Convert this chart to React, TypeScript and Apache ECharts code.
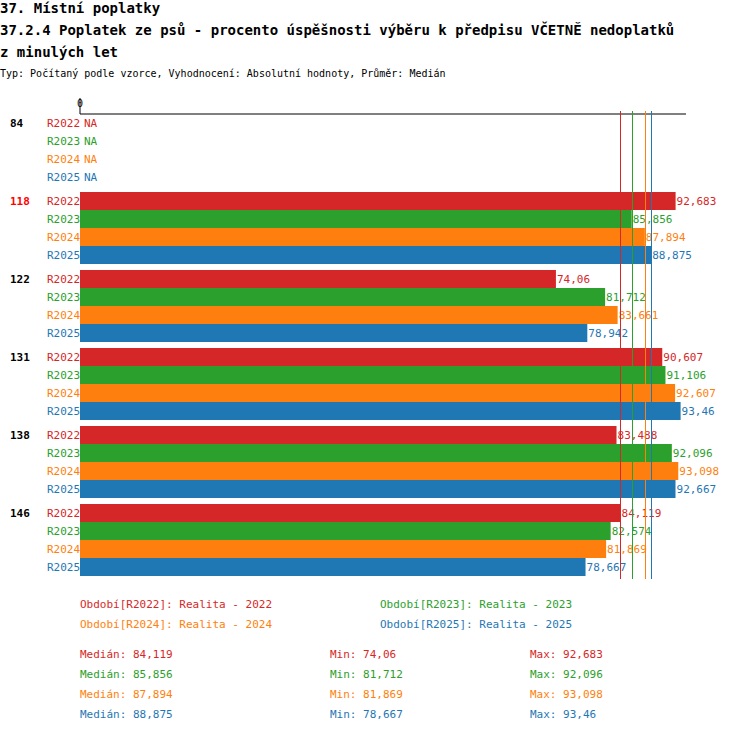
import { useEffect, useRef } from "react";
import * as echarts from "echarts";

const categories = ["84", "118", "122", "131", "138", "146"];
const seriesNames = ["R2022", "R2023", "R2024", "R2025"];
const colors = ["#d62728", "#2ca02c", "#ff7f0e", "#1f77b4"];
const r2022 = [null, 92.683, 74.06, 90.607, 83.488, 84.119];
const r2023 = [null, 85.856, 81.712, 91.106, 92.096, 82.574];
const r2024 = [null, 87.894, 83.661, 92.607, 93.098, 81.869];
const r2025 = [null, 88.875, 78.942, 93.46, 92.667, 78.667];
const medians = [84.119, 85.856, 87.894, 88.875];
const mins = [74.06, 81.712, 81.869, 78.667];
const maxs = [92.683, 92.096, 93.098, 93.46];
const legendTexts = ["Období[R2022]: Realita - 2022", "Období[R2023]: Realita - 2023", "Období[R2024]: Realita - 2024", "Období[R2025]: Realita - 2025"];

const FONT = "'DejaVu Sans Mono', monospace";
const fmt = (v: number) => String(v).replace(".", ",");

export default function App() {
  const ref = useRef<HTMLDivElement>(null);

  useEffect(() => {
    if (!ref.current) return;
    const chart = echarts.init(ref.current, null, { renderer: "svg" });
    const data = [r2022, r2023, r2024, r2025];
    const top = 111;
    const band = 78;

    const graphics: any[] = [];
    const t = (text: string, x: number, y: number, fill: string, size = 11, weight = "normal") =>
      graphics.push({ type: "text", x, y, style: { text, fill, font: `${weight} ${size}px ${FONT}`, textVerticalAlign: "middle" } });

    t("37. Místní poplatky", 0, 8, "#000", 14, "bold");
    t("37.2.4 Poplatek ze psů - procento úspěšnosti výběru k předpisu VČETNĚ nedoplatků", 0, 30, "#000", 14, "bold");
    t("z minulých let", 0, 52, "#000", 14, "bold");
    t("Typ: Počítaný podle vzorce, Vyhodnocení: Absolutní hodnoty, Průměr: Medián", 0, 73, "#000", 10);
    t("0", 77, 103, "#000", 10);
    graphics.push({ type: "line", shape: { x1: 80, y1: 114, x2: 686, y2: 114 }, style: { stroke: "#000", lineWidth: 1 } });
    graphics.push({ type: "line", shape: { x1: 80, y1: 98, x2: 80, y2: 114 }, style: { stroke: "#000", lineWidth: 1 } });

    categories.forEach((c, i) => {
      const y0 = top + i * band + 3;
      t(c, 10, y0 + 9, i === 1 ? "#ff0000" : "#000", 11, "bold");
      seriesNames.forEach((s, j) => {
        const yc = y0 + 9 + j * 18;
        t(s, 47, yc, colors[j]);
        if (data[j][i] == null) t("NA", 84, yc, colors[j]);
      });
    });

    [0, 1, 2, 3].forEach((j) => {
      t(legendTexts[j], j % 2 === 0 ? 80 : 380, 604 + Math.floor(j / 2) * 20, colors[j]);
      const y = 654 + j * 20;
      t(`Medián: ${fmt(medians[j])}`, 80, y, colors[j]);
      t(`Min: ${fmt(mins[j])}`, 330, y, colors[j]);
      t(`Max: ${fmt(maxs[j])}`, 530, y, colors[j]);
    });

    const option = {
      animation: false,
      grid: { left: 80, right: 64, top, height: band * 6 },
      xAxis: { type: "value", min: 0, max: 94.3, show: false },
      yAxis: { type: "category", data: categories, inverse: true, show: false },
      graphic: graphics,
      series: seriesNames.map((name, j) => ({
        name,
        type: "bar",
        data: data[j],
        barWidth: 18,
        barGap: "0%",
        itemStyle: { color: colors[j] },
        label: {
          show: true,
          position: "right",
          distance: 1,
          color: colors[j],
          fontFamily: FONT,
          fontSize: 11,
          formatter: (p: any) => fmt(p.value),
        },
        markLine: {
          silent: true,
          symbol: "none",
          label: { show: false },
          lineStyle: { color: colors[j], type: "solid", width: 1 },
          data: [{ xAxis: medians[j] }],
        },
      })),
    };
    chart.setOption(option);
    return () => chart.dispose();
  }, []);

  return <div ref={ref} style={{ width: 750, height: 732, position: "absolute", left: 0, top: 0 }} />;
}
